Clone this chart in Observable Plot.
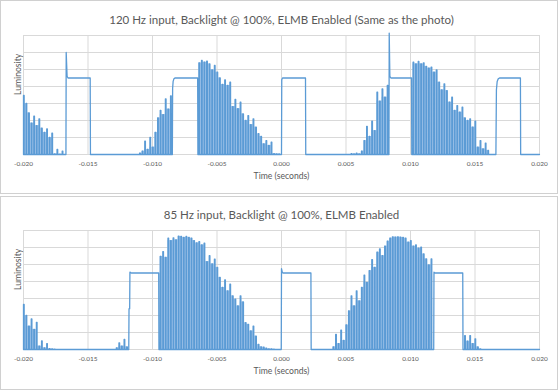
<!DOCTYPE html>
<html>
<head>
<meta charset="utf-8">
<script src="https://cdn.jsdelivr.net/npm/d3@7"></script>
<script src="https://cdn.jsdelivr.net/npm/@observablehq/plot@0.6"></script>
<style>
  html, body { margin: 0; padding: 0; background: #fff; }
  #wrap { position: relative; width: 558px; height: 390px; overflow: hidden; background: #fff; }
  .panel { position: absolute; left: 0; width: 558px; }
  .frame { position: absolute; left: 0; width: 558px; box-sizing: border-box; border: 1px solid #d0d0d0; pointer-events: none; }
</style>
</head>
<body>
<div id="wrap"></div>
<script>
// ---------- data ----------
const topTitle = "120 Hz input, Backlight @ 100%, ELMB Enabled (Same as the photo)";
const bottomTitle = "85 Hz input, Backlight @ 100%, ELMB Enabled";
const xLabel = "Time (seconds)";
const yLabel = "Luminosity";
const xTicks = [-0.02, -0.015, -0.01, -0.005, 0, 0.005, 0.01, 0.015, 0.02];
const yGrid = [0, 1, 2, 3, 4, 5, 6, 7];

// PWM spacing read from the bursts (one pulse every 0.2 ms)
const PWM_PERIOD = 0.0002;

// --- 120 Hz chart ---
const topBurst1Start = -0.0200;
const topBurst1 = [3.47, 3.0, 2.45, 1.85, 2.25, 1.7, 2.1, 1.55, 1.3, 1.5, 1.0, 1.25, 0.03, 0.3, 0.02, 0.2];
const topPlateau1 = [[-0.01671, 0], [-0.01669, 6.0], [-0.01662, 4.6], [-0.01655, 4.5], [-0.01483, 4.5], [-0.01481, 0]];
const topBurst2Start = -0.0110;
const topBurst2 = [0.08, 0.2, 0.78, 0.3, 1.0, 0.43, 1.3, 2.15, 2.6, 2.35, 3.27, 2.67, 3.45];
const topPlateau2 = [[-0.00846, 0], [-0.00844, 3.9], [-0.00840, 4.3], [-0.00834, 4.45], [-0.00826, 4.5], [-0.00650, 4.5], [-0.00648, 0]];
const topBurst3Start = -0.0064;
const topBurst3 = [5.39, 5.53, 5.43, 5.49, 5.33, 4.98, 5.24, 4.84, 4.51, 4.12, 4.39, 4.06, 4.25, 2.82, 3.24, 2.69, 3.08, 2.39, 2.0, 2.29, 1.76, 2.10, 1.61, 1.22, 1.06, 0.63, 0.82, 0.53, 0.73, 0.05, 0.04, 0.03];
const topPlateau3 = [[0.00000, 0], [0.00002, 4.4], [0.00008, 4.5], [0.00186, 4.5], [0.00188, 0]];
const topBurst4Start = 0.0054;
const topBurst4 = [0.05, 0.03, 0.08, 0.03, 0.2, 0.82, 1.65, 1.06, 1.96, 1.41, 3.67, 3.14, 3.86, 3.37, 4.06];
const topPlateau4 = [[0.00833, 0], [0.00835, 7.14], [0.00840, 4.6], [0.00848, 4.5], [0.01008, 4.5], [0.01010, 0]];
const topBurst5Start = 0.0102;
const topBurst5 = [5.43, 5.33, 5.47, 5.33, 5.39, 5.18, 5.08, 5.14, 4.84, 4.98, 4.25, 3.80, 4.16, 3.76, 3.08, 3.37, 2.59, 2.88, 2.49, 2.78, 2.16, 2.0, 2.10, 1.61, 1.96, 0.43, 0.82, 0.33, 0.67, 0.24];
const topPlateau5 = [[0.01662, 0], [0.01666, 3.8], [0.01672, 4.3], [0.01680, 4.45], [0.01690, 4.5], [0.01852, 4.5], [0.01854, 0], [0.02, 0]];

// --- 85 Hz chart ---
const botBurst1Start = -0.0200;
const botBurst1 = [2.65, 2.0, 1.37, 1.8, 1.18, 1.6, 0.2, 0.5, 0.1, 0.35, 0.05, 0.03, 0.02];
const botBurst2Start = -0.0128;
const botBurst2 = [0.1, 0.39, 0.2, 0.59, 0.16];
const botPlateau1 = [[-0.01184, 0], [-0.01182, 2.4], [-0.01177, 2.4], [-0.01175, 4.55], [-0.01165, 4.5], [-0.00952, 4.5], [-0.00950, 0]];
const botBurst3Start = -0.0094;
const botBurst3 = [5.48, 5.76, 5.42, 6.55, 6.41, 6.57, 6.45, 6.67, 6.65, 6.59, 6.65, 6.59, 6.55, 6.41, 6.27, 6.35, 6.15, 6.25, 5.17, 5.52, 5.03, 5.32, 4.83, 4.24, 3.65, 4.10, 3.45, 3.85, 3.16, 2.96, 2.56, 3.16, 2.80, 1.58, 1.48, 1.09, 1.38, 0.79, 0.30, 0.16, 0.14, 0.08, 0.04, 0.03, 0.02];
const botPlateau2 = [[-0.00002, 0], [0.00000, 4.75], [0.00006, 4.55], [0.00012, 4.5], [0.00228, 4.5], [0.00230, 0]];
const botBurst4Start = 0.0040;
const botBurst4 = [0.16, 0.89, 0.35, 1.14, 0.53, 1.44, 2.27, 3.16, 2.56, 3.45, 2.86, 3.65, 4.38, 3.94, 4.64, 5.29, 4.83, 5.72, 5.92, 5.52, 6.08, 6.37, 6.55, 6.63, 6.61, 6.63, 6.61, 6.59, 6.55, 6.31, 6.41, 6.08, 6.15, 5.96, 6.02, 5.62, 5.33, 4.97, 5.33];
const botPlateau3 = [[0.01180, 0], [0.01182, 4.55], [0.01190, 4.5], [0.01405, 4.5], [0.01407, 0]];
const botBurst5Start = 0.0142;
const botBurst5 = [0.82, 0.49, 0.82, 0.35, 0.63, 0.16, 0.04];
const botEnd = [[0.02, 0]];

// ---------- build ----------
const BLUE = "#5b9bd5";
const FILL = "#b4cfee";
const PULSE = 0.00005; // drawn width of one PWM pulse top
const FONT = "Lato, 'Open Sans', sans-serif";
const GREY = "#595959";

function burst(start, heights) {
  return heights.map((h, i) => ({t: start + i * PWM_PERIOD, h}));
}
function build(parts) {
  const pts = [], pulses = [];
  for (const p of parts) {
    if (p.kind === "burst") {
      const b = burst(p.start, p.heights);
      b.forEach((d, i) => {
        const next = b[i + 1];
        if (next) pulses.push({t1: d.t, t2: next.t + PULSE, h: Math.min(d.h, next.h)});
        pts.push({t: d.t, v: 0}, {t: d.t, v: d.h}, {t: d.t + PULSE, v: d.h}, {t: d.t + PULSE, v: 0});
      });
    } else {
      for (const [t, v] of p.pts) pts.push({t, v});
    }
  }
  return {pts, pulses};
}
const topSeries = build([
  {kind: "burst", start: topBurst1Start, heights: topBurst1},
  {kind: "plat", pts: topPlateau1},
  {kind: "burst", start: topBurst2Start, heights: topBurst2},
  {kind: "plat", pts: topPlateau2},
  {kind: "burst", start: topBurst3Start, heights: topBurst3},
  {kind: "plat", pts: topPlateau3},
  {kind: "burst", start: topBurst4Start, heights: topBurst4},
  {kind: "plat", pts: topPlateau4},
  {kind: "burst", start: topBurst5Start, heights: topBurst5},
  {kind: "plat", pts: topPlateau5}
]);
const botSeries = build([
  {kind: "burst", start: botBurst1Start, heights: botBurst1},
  {kind: "burst", start: botBurst2Start, heights: botBurst2},
  {kind: "plat", pts: botPlateau1},
  {kind: "burst", start: botBurst3Start, heights: botBurst3},
  {kind: "plat", pts: botPlateau2},
  {kind: "burst", start: botBurst4Start, heights: botBurst4},
  {kind: "plat", pts: botPlateau3},
  {kind: "burst", start: botBurst5Start, heights: botBurst5},
  {kind: "plat", pts: botEnd}
]);

function fit(text, target) {
  const ctx = document.createElement("canvas").getContext("2d");
  ctx.font = `100px ${FONT}`;
  return 100 * target / ctx.measureText(text).width;
}
const titleSize = fit(topTitle, 345);
const tickSize = fit("-0.020", 19);
const labelSize = fit(xLabel, 56);

function chart(title, series) {
  return Plot.plot({
    width: 558, height: 194,
    marginLeft: 23, marginRight: 19, marginTop: 35, marginBottom: 40,
    x: {domain: [-0.02, 0.02]},
    y: {domain: [0, 7], axis: null},
    style: {background: "transparent", fontFamily: FONT, color: GREY, overflow: "visible"},
    marks: [
      Plot.gridY(yGrid, {stroke: "#d9d9d9", strokeOpacity: 1}),
      Plot.gridX(xTicks, {stroke: "#d9d9d9", strokeOpacity: 1}),
      Plot.axisX(xTicks, {tickSize: 0, tickPadding: 7, tickFormat: d => d.toFixed(3), label: null, fontSize: tickSize, fill: GREY}),
      Plot.rectY(series.pulses, {x1: "t1", x2: "t2", y: "h", fill: FILL}),
      Plot.line(series.pts, {x: "t", y: "v", stroke: BLUE, strokeWidth: 1.3}),
      Plot.text([title], {frameAnchor: "top", dy: -20, fontSize: titleSize, fill: GREY}),
      Plot.text([xLabel], {frameAnchor: "bottom", dy: 24, fontSize: labelSize, fill: GREY}),
      Plot.text([yLabel], {frameAnchor: "left", dx: -5, rotate: -90, fontSize: labelSize, fill: GREY})
    ]
  });
}

const wrap = document.getElementById("wrap");
function addPanel(svg, top, frameTop, frameH) {
  const d = document.createElement("div");
  d.className = "panel"; d.style.top = top + "px";
  d.appendChild(svg);
  wrap.appendChild(d);
  const f = document.createElement("div");
  f.className = "frame"; f.style.top = frameTop + "px"; f.style.height = frameH + "px";
  wrap.appendChild(f);
}
addPanel(chart(topTitle, topSeries), 0, 0, 194);
addPanel(chart(bottomTitle, botSeries), 195, 196, 194);
</script>
</body>
</html>
